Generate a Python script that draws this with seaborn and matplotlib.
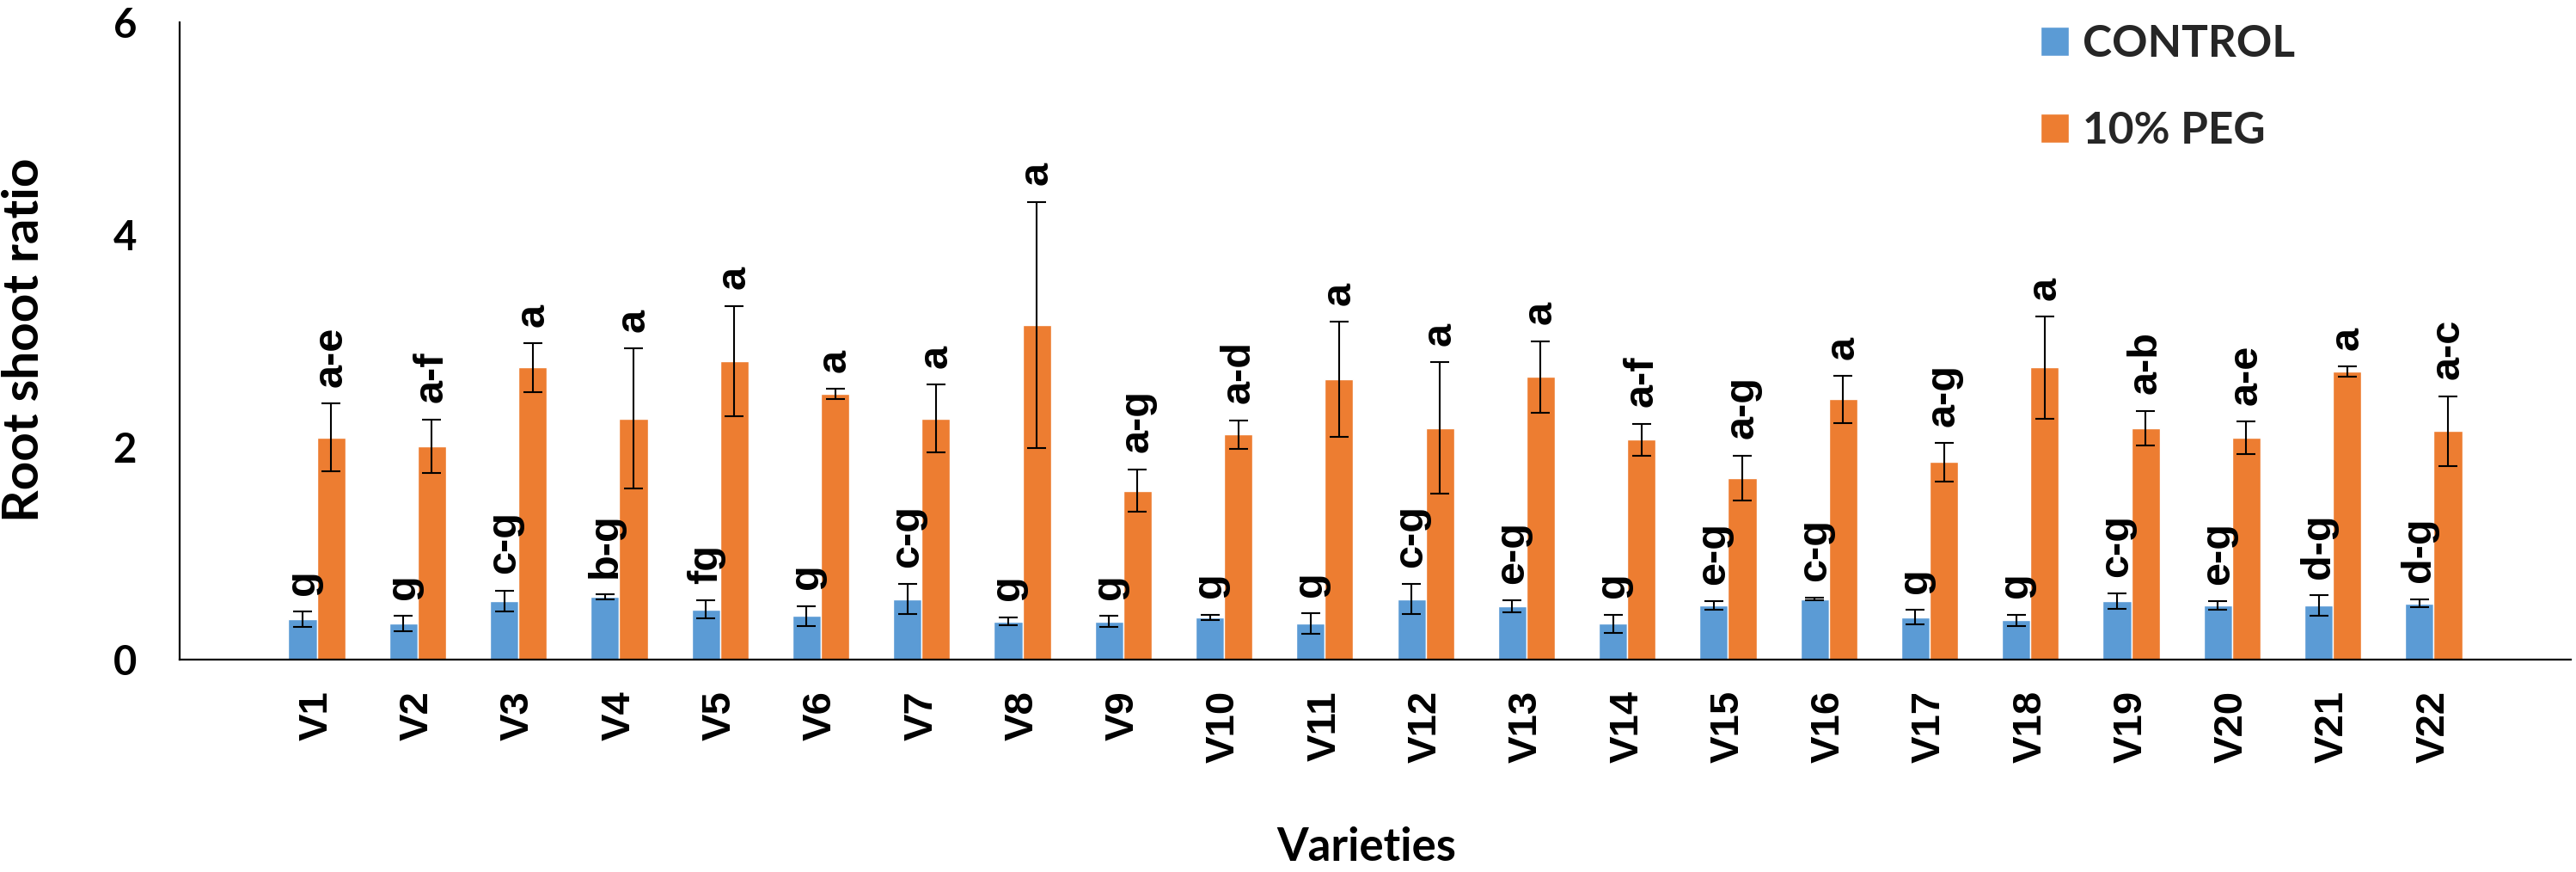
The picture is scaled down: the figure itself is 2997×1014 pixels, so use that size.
import matplotlib
matplotlib.use("Agg")
import matplotlib.pyplot as plt
import pandas as pd
import seaborn as sns

varieties = [f"V{i}" for i in range(1, 23)]
control_mean = [0.38, 0.34, 0.55, 0.59, 0.47, 0.41, 0.57, 0.36, 0.36, 0.40, 0.34,
                0.57, 0.50, 0.34, 0.51, 0.57, 0.40, 0.37, 0.55, 0.51, 0.51, 0.53]
control_err = [0.07, 0.07, 0.10, 0.025, 0.085, 0.095, 0.14, 0.04, 0.05, 0.025, 0.095,
               0.14, 0.058, 0.085, 0.04, 0.01, 0.07, 0.054, 0.072, 0.037, 0.097, 0.04]
peg_mean = [2.09, 2.01, 2.75, 2.27, 2.81, 2.50, 2.27, 3.15, 1.59, 2.12, 2.64,
            2.18, 2.66, 2.07, 1.71, 2.45, 1.86, 2.75, 2.18, 2.09, 2.71, 2.15]
peg_err = [0.32, 0.25, 0.23, 0.66, 0.52, 0.05, 0.32, 1.16, 0.20, 0.135, 0.54,
           0.62, 0.34, 0.15, 0.21, 0.22, 0.18, 0.48, 0.163, 0.153, 0.05, 0.33]
control_letters = ["g", "g", "c-g", "b-g", "fg", "g", "c-g", "g", "g", "g", "g",
                   "c-g", "e-g", "g", "e-g", "c-g", "g", "g", "c-g", "e-g", "d-g", "d-g"]
peg_letters = ["a-e", "a-f", "a", "a", "a", "a", "a", "a", "a-g", "a-d", "a",
               "a", "a", "a-f", "a-g", "a", "a-g", "a", "a-b", "a-e", "a", "a-c"]
treatments = ["CONTROL", "10% PEG"]
colors = ["#5B9BD5", "#ED7D31"]

sns.set_theme(style="white")
plt.rcParams['font.family'] = ['Lato', 'DejaVu Sans']

df = pd.DataFrame({
    "Variety": varieties * 2,
    "Treatment": [treatments[0]] * len(varieties) + [treatments[1]] * len(varieties),
    "Ratio": control_mean + peg_mean,
})

W, H = 2997, 1014
fig = plt.figure(figsize=(W / 100, H / 100), dpi=100)
left, right, bottom, top = 209, 2991, 767, 26
ax = fig.add_axes([left / W, 1 - bottom / H, (right - left) / W, (bottom - top) / H])

sns.barplot(data=df, x="Variety", y="Ratio", hue="Treatment", hue_order=treatments,
            palette=colors, width=0.565, gap=0, errorbar=None, saturation=1, ax=ax,
            zorder=2)

means = [control_mean, peg_mean]
errs = [control_err, peg_err]
letters = [control_letters, peg_letters]
for k, cont in enumerate(ax.containers[:2]):
    xs = [p.get_x() + p.get_width() / 2 for p in cont.patches]
    ax.errorbar(xs, means[k], yerr=errs[k], fmt="none", ecolor="black",
                elinewidth=1.5, capsize=8, capthick=1.5, zorder=3)
    for x, m, e, lab in zip(xs, means[k], errs[k], letters[k]):
        ax.annotate(lab, (x, m + e), xytext=(0, 14), textcoords="offset points",
                    rotation=90, ha="center", va="bottom", fontsize=35,
                    fontweight="bold", family="Liberation Sans", color="black")

ax.set_ylim(0, 6)
ax.set_yticks([0, 2, 4, 6])
ax.set_xlabel("")
ax.set_ylabel("")
for s in ["top", "right"]:
    ax.spines[s].set_visible(False)
for s in ["left", "bottom"]:
    ax.spines[s].set_color("black")
    ax.spines[s].set_linewidth(1.6)
ax.tick_params(axis="both", length=0)
ax.tick_params(axis="y", pad=36)
ax.tick_params(axis="x", pad=26)
for t in ax.get_yticklabels():
    t.set_fontsize(34)
    t.set_fontweight("bold")
    t.set_color("black")
for t in ax.get_xticklabels():
    t.set_fontsize(34)
    t.set_fontweight("bold")
    t.set_family("Liberation Sans")
    t.set_rotation(90)
    t.set_color("black")

fig.text(29 / W, 1 - 395 / H, "Root shoot ratio", rotation=90, ha="center", va="center",
         fontsize=42, fontweight="bold", color="black")
fig.text(1590 / W, 1 - 1001 / H, "Varieties", ha="center", va="baseline",
         fontsize=38, fontweight="bold", color="black")

handles, labels = ax.get_legend_handles_labels()
ax.legend(handles[:2], labels[:2], loc="upper left",
          bbox_to_anchor=(2374 / W, 1 - 28 / H), bbox_transform=fig.transFigure,
          frameon=False, prop={"weight": "bold", "size": 37},
          handlelength=0.64, handleheight=0.64, handletextpad=0.32,
          labelspacing=1.05, borderpad=0, borderaxespad=0)

fig.savefig("out.png", dpi=100)
